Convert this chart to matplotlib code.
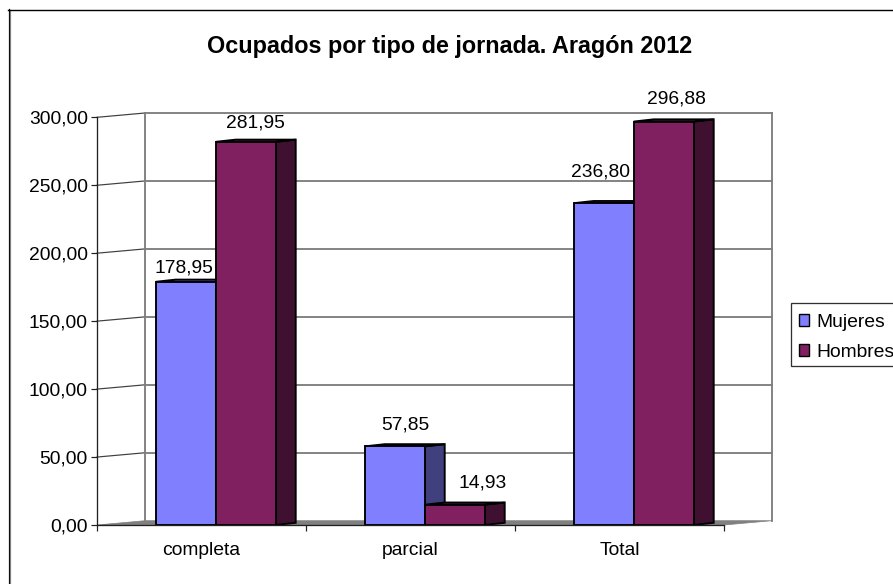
import matplotlib
matplotlib.use("Agg")
import matplotlib.pyplot as plt
from matplotlib.patches import Patch, Polygon, Rectangle
from matplotlib.lines import Line2D

plt.rcParams['font.family'] = ['Liberation Sans', 'DejaVu Sans']

categories = ['completa', 'parcial', 'Total']
mujeres = [178.95, 57.85, 236.80]
hombres = [281.95, 14.93, 296.88]
y_ticks = [0, 50, 100, 150, 200, 250, 300]
title = 'Ocupados por tipo de jornada. Aragón 2012'

# label offsets in pixels from the bar's top-front centre
muj_off = [(-1.5, 13.5), (10.5, 21), (-3.5, 31)]
hom_off = [(9.5, 19), (27.5, 22), (12.5, 23)]

W, H = 893, 584
DPI = 100
L, R, T, B = 97, 724, 117.3, 525
FS = 13.9
C_M, C_MS = '#8080FF', '#40407F'
C_H, C_HS = '#802060', '#401030'
GRAY = '#808080'

fig = plt.figure(figsize=(W / DPI, H / DPI), dpi=DPI, facecolor='white')
ax = fig.add_axes([L / W, 1 - B / H, (R - L) / W, (B - T) / H])
ax.set_xlim(0, 3)
ax.set_ylim(0, 300)
ax.patch.set_visible(False)

px_x = 3 / (R - L)
px_y = 300 / (B - T)
wall_dx, wall_dy = 48 * px_x, 4.3 * px_y
bar_dx, bar_dy = 20 * px_x, 2.2 * px_y
bar_w = 60 * px_x
split = 0.568
px = 1 / DPI * 72

# floor
ax.add_patch(Polygon([(0, 0), (wall_dx, wall_dy), (3 + wall_dx, wall_dy), (3, 0)],
                     closed=True, fc=GRAY, ec=GRAY, lw=0.5, zorder=1, clip_on=False))
# walls
for v in y_ticks:
    if v > 0:
        ax.plot([wall_dx, 3 + wall_dx], [v + wall_dy] * 2, color=GRAY, lw=1.9 * px,
                zorder=1, clip_on=False)
        ax.plot([0, wall_dx], [v, v + wall_dy], color='#404040', lw=1.2 * px,
                zorder=1, clip_on=False)
for xw in (wall_dx, 3 + wall_dx):
    ax.plot([xw, xw], [wall_dy, 300 + wall_dy], color=GRAY, lw=1.9 * px,
            zorder=1, clip_on=False)


def draw_bar(x0, v, face, side, z):
    ax.bar(x0, v, width=bar_w, align='edge', color=face, edgecolor='black',
           linewidth=1.9 * px, zorder=z + 0.2)
    x1 = x0 + bar_w
    ax.add_patch(Polygon([(x1, 0), (x1 + bar_dx, bar_dy), (x1 + bar_dx, v + bar_dy), (x1, v)],
                         closed=True, fc=side, ec='black', lw=1.9 * px, zorder=z, clip_on=False))
    ax.add_patch(Polygon([(x0, v), (x0 + bar_dx, v + bar_dy), (x1 + bar_dx, v + bar_dy), (x1, v)],
                         closed=True, fc=face, ec='black', lw=1.9 * px, zorder=z, clip_on=False))


for i in range(len(categories)):
    draw_bar(i + split - bar_w, mujeres[i], C_M, C_MS, 3)
    draw_bar(i + split, hombres[i], C_H, C_HS, 4)
    ax.annotate(f'{mujeres[i]:.2f}'.replace('.', ','),
                (i + split - bar_w / 2, mujeres[i]), xytext=muj_off[i],
                textcoords='offset pixels', ha='center', va='center',
                fontsize=FS, color='black', zorder=6, annotation_clip=False)
    ax.annotate(f'{hombres[i]:.2f}'.replace('.', ','),
                (i + split + bar_w / 2, hombres[i]), xytext=hom_off[i],
                textcoords='offset pixels', ha='center', va='center',
                fontsize=FS, color='black', zorder=6, annotation_clip=False)

# axes
for s in ('top', 'right'):
    ax.spines[s].set_visible(False)
for s in ('left', 'bottom'):
    ax.spines[s].set_linewidth(1.3 * px)
    ax.spines[s].set_color('#202020')
    ax.spines[s].set_zorder(5)
ax.set_yticks(y_ticks)
ax.set_yticklabels([f'{v:.2f}'.replace('.', ',') for v in y_ticks], fontsize=FS)
ax.set_xticks(range(len(categories) + 1))
ax.set_xticklabels([''] * (len(categories) + 1))
ax.set_xticks([i + 0.5 for i in range(len(categories))], minor=True)
ax.set_xticklabels(categories, minor=True, fontsize=FS)
ax.tick_params(axis='x', which='minor', length=0, pad=12)
ax.tick_params(axis='x', which='major', length=6 * px, width=1.2 * px, color='#202020')
ax.tick_params(axis='y', length=6 * px, width=1.2 * px, pad=2.2, color='#202020')

fig.text(449.5 / W, 1 - 46 / H, title, ha='center', va='center',
         fontsize=16.85, fontweight='bold', color='black')

# chart frame
fig.add_artist(Line2D([8.5 / W, 8.5 / W], [0, 1 - 9 / H], color='black', lw=1.2 * px))
fig.add_artist(Line2D([9.8 / W, 9.8 / W], [0, 1 - 10 / H], color=GRAY, lw=1.2 * px))
fig.add_artist(Line2D([8 / W, 1], [1 - 9.5 / H] * 2, color='black', lw=1.4 * px))

# legend frame runs off the right edge of the canvas
fig.add_artist(Rectangle((790.5 / W, 1 - 366 / H), 110 / W, 63.3 / H, transform=fig.transFigure,
                         fc='white', ec='#303030', lw=1.3 * px, clip_on=False))
leg = fig.legend(
    handles=[Patch(fc=C_M, ec='black', lw=1.4 * px, label='Mujeres'),
             Patch(fc=C_H, ec='black', lw=1.4 * px, label='Hombres')],
    loc='upper left', bbox_to_anchor=(790.5 / W, 1 - 305.5 / H),
    bbox_transform=fig.transFigure, fontsize=FS, frameon=False,
    handlelength=0.55, handleheight=0.55, handletextpad=0.35,
    borderpad=0.42, labelspacing=0.7, borderaxespad=0)
leg.set_zorder(10)

fig.savefig('out.png', dpi=DPI, facecolor='white')
